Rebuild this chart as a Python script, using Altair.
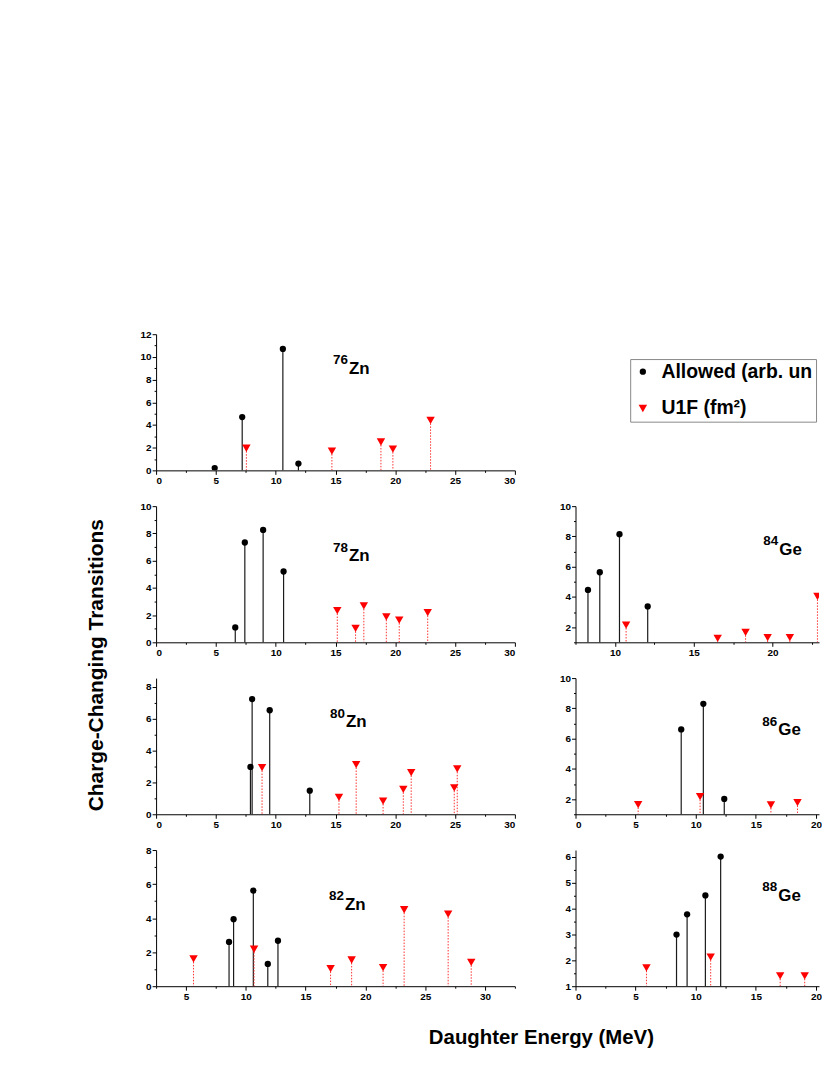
import altair as alt
import pandas as pd

FONT = "Liberation Sans"
SERIES = ["Allowed (arb. units)", "U1F (fm²)"]

# ---- data ----
zn76_allowed_e = [4.9, 7.2, 10.6, 11.9]
zn76_allowed_v = [0.2, 4.7, 10.7, 0.6]
zn76_u1f_e = [7.55, 14.7, 18.8, 19.8, 22.95]
zn76_u1f_v = [1.95, 1.7, 2.5, 1.87, 4.4]

zn78_allowed_e = [6.62, 7.42, 8.95, 10.66]
zn78_allowed_v = [1.09, 7.33, 8.25, 5.2]
zn78_u1f_e = [15.15, 16.68, 17.37, 19.25, 20.33, 22.71]
zn78_u1f_v = [2.33, 1.02, 2.67, 1.87, 1.63, 2.18]

zn80_allowed_e = [7.89, 8.03, 9.5, 12.85]
zn80_allowed_v = [2.97, 7.23, 6.53, 1.48]
zn80_u1f_e = [8.86, 15.29, 16.73, 18.98, 20.67, 21.33, 24.93, 25.18]
zn80_u1f_v = [2.93, 1.06, 3.12, 0.83, 1.56, 2.62, 1.66, 2.85]

zn82_allowed_e = [8.6, 8.98, 10.63, 11.84, 12.69]
zn82_allowed_v = [2.6, 3.94, 5.62, 1.31, 2.67]
zn82_u1f_e = [5.63, 10.69, 17.09, 18.85, 21.48, 23.24, 26.92, 28.85]
zn82_u1f_v = [1.6, 2.17, 1.03, 1.54, 1.09, 4.49, 4.23, 1.4]

ge84_allowed_e = [8.29, 9.04, 10.29, 12.08]
ge84_allowed_v = [4.46, 5.63, 8.15, 3.37]
ge84_u1f_e = [10.71, 16.52, 18.29, 19.69, 21.1, 22.85]
ge84_u1f_v = [2.14, 1.26, 1.66, 1.31, 1.31, 4.03]

ge86_allowed_e = [8.79, 10.63, 12.37]
ge86_allowed_v = [6.61, 8.3, 2.01]
ge86_u1f_e = [5.21, 10.36, 16.25, 18.46]
ge86_u1f_v = [1.64, 2.16, 1.61, 1.77]

ge88_allowed_e = [8.4, 9.28, 10.8, 12.07]
ge88_allowed_v = [2.99, 3.77, 4.5, 6.0]
ge88_u1f_e = [5.9, 11.24, 17.02, 19.06]
ge88_u1f_v = [1.71, 2.12, 1.4, 1.4]

WL, WR, H = 361, 245, 137

LEGEND = alt.Legend(
    title=None, orient="none", legendX=477, legendY=25,
    labelExpr="datum.label == 'Allowed (arb. units)' ? 'Allowed (arb. un' : datum.label",
)


def panel(mass, sym, ae, av, ue, uv, xdom, ydom, xmaj, xmin, ymaj, ymin, lab, width):
    rows = [{"e": e, "v": v, "s": SERIES[0]} for e, v in zip(ae, av)]
    rows += [{"e": e, "v": v, "s": SERIES[1]} for e, v in zip(ue, uv)]
    df = pd.DataFrame(rows)
    base = alt.Chart(df)
    xs = alt.Scale(domain=xdom, nice=False, zero=False)
    ys = alt.Scale(domain=ydom, nice=False, zero=False)
    X = alt.X("e:Q", scale=xs, axis=alt.Axis(values=xmaj, title=None, format="d"))
    Y = alt.Y("v:Q", scale=ys, axis=alt.Axis(values=ymaj, title=None, format="d"))
    Xn = alt.X("e:Q", scale=xs, axis=None)
    Yn = alt.Y("v:Q", scale=ys, axis=None)
    stem_a = base.transform_filter(alt.datum.s == SERIES[0]).mark_rule(
        color="#1a1a1a", strokeWidth=1.2
    ).encode(x=X, y=Y, y2=alt.datum(ydom[0]))
    stem_u = base.transform_filter(alt.datum.s == SERIES[1]).mark_rule(
        color="#ff3030", strokeWidth=1, strokeDash=[1.5, 1.5], clip=True
    ).encode(x=Xn, y=Yn, y2=alt.datum(ydom[0]))
    pts = base.mark_point(filled=True, opacity=1, strokeWidth=0, clip=True).encode(
        x=Xn,
        y=Yn,
        color=alt.Color("s:N", scale=alt.Scale(domain=SERIES, range=["black", "red"]), legend=LEGEND),
        shape=alt.Shape("s:N", scale=alt.Scale(domain=SERIES, range=["circle", "triangle-down"]), legend=LEGEND),
        size=alt.Size("s:N", scale=alt.Scale(domain=SERIES, range=[40, 72]), legend=None),
    )
    minor = base.mark_point(opacity=0).encode(
        x=alt.X("e:Q", scale=xs, axis=alt.Axis(values=xmin, labels=False, domain=False, tickSize=2, title=None, orient="bottom")),
        y=alt.Y("v:Q", scale=ys, axis=alt.Axis(values=ymin, labels=False, domain=False, tickSize=2, title=None, orient="left")),
    )
    one = alt.Data(values=[{}])
    t_mass = alt.Chart(one).mark_text(
        text=mass, font=FONT, fontSize=13.5, fontWeight="bold", align="right", baseline="alphabetic", color="black"
    ).encode(x=alt.value(lab[0] - 1), y=alt.value(lab[2]))
    t_sym = alt.Chart(one).mark_text(
        text=sym, font=FONT, fontSize=17, fontWeight="bold", align="left", baseline="alphabetic", color="black"
    ).encode(x=alt.value(lab[0]), y=alt.value(lab[1]))
    return alt.layer(stem_a, stem_u, pts, minor, t_mass, t_sym).resolve_axis(
        x="independent", y="independent"
    ).properties(width=width, height=H)


x30 = [0, 5, 10, 15, 20, 25, 30]
x30m = [2.5, 7.5, 12.5, 17.5, 22.5, 27.5]
x20 = [0, 5, 10, 15, 20]
x20m = [2.5, 7.5, 12.5, 17.5]

p76 = panel("76", "Zn", zn76_allowed_e, zn76_allowed_v, zn76_u1f_e, zn76_u1f_v,
            [0, 30], [0, 12], x30, x30m, [0, 2, 4, 6, 8, 10, 12], [1, 3, 5, 7, 9, 11], (194, 40, 30), WL)
p78 = panel("78", "Zn", zn78_allowed_e, zn78_allowed_v, zn78_u1f_e, zn78_u1f_v,
            [0, 30], [0, 10], x30, x30m, [0, 2, 4, 6, 8, 10], [1, 3, 5, 7, 9], (194, 55, 46), WL)
p80 = panel("80", "Zn", zn80_allowed_e, zn80_allowed_v, zn80_u1f_e, zn80_u1f_v,
            [0, 30], [0, 8.55], x30, x30m, [0, 2, 4, 6, 8], [1, 3, 5, 7], (191, 49, 40), WL)
p82 = panel("82", "Zn", zn82_allowed_e, zn82_allowed_v, zn82_u1f_e, zn82_u1f_v,
            [2.5, 32.5], [0, 8], [5, 10, 15, 20, 25, 30], [2.5, 7.5, 12.5, 17.5, 22.5, 27.5, 32.5],
            [0, 2, 4, 6, 8], [1, 3, 5, 7], (190, 60, 50), WL)
p84 = panel("84", "Ge", ge84_allowed_e, ge84_allowed_v, ge84_u1f_e, ge84_u1f_v,
            [7.5, 22.95], [1, 10], [10, 15, 20], [7.5, 12.5, 17.5, 22.5],
            [2, 4, 6, 8, 10], [1, 3, 5, 7, 9], (205, 49, 39), WR)
p86 = panel("86", "Ge", ge86_allowed_e, ge86_allowed_v, ge86_u1f_e, ge86_u1f_v,
            [0, 20.25], [1, 10], x20, x20m, [2, 4, 6, 8, 10], [1, 3, 5, 7, 9], (204, 57, 48), WR)
p88 = panel("88", "Ge", ge88_allowed_e, ge88_allowed_v, ge88_u1f_e, ge88_u1f_v,
            [0, 20.25], [1, 6.25], x20, x20m, [1, 2, 3, 4, 5, 6], [1.5, 2.5, 3.5, 4.5, 5.5], (204, 51, 41), WR)

empty = alt.Chart(alt.Data(values=[{}])).mark_point(opacity=0).properties(width=WR, height=H)

grid = alt.concat(
    p76, empty, p78, p84, p80, p86, p82, p88,
    columns=2,
    spacing={"row": 16, "column": 43},
).properties(
    title=alt.TitleParams(
        "Charge-Changing Transitions", orient="left", anchor="middle",
        font=FONT, fontSize=21, fontWeight="bold", color="black", offset=33,
    )
)

chart = alt.vconcat(grid).properties(
    title=alt.TitleParams(
        "Daughter Energy (MeV)", orient="bottom", anchor="middle",
        font=FONT, fontSize=20.5, fontWeight="bold", color="black", offset=27, dx=88,
    ),
    padding={"top": 320, "left": 78, "right": 0, "bottom": 0},
).configure_view(stroke=None).configure_axis(
    labelFont=FONT, labelFontWeight="bold", labelFontSize=10, labelColor="black",
    domainColor="black", tickColor="black", tickSize=4, labelPadding=1, grid=False,
).configure_legend(
    labelFont=FONT, labelFontSize=19.5, labelFontWeight="bold", labelColor="black",
    symbolSize=180, symbolStrokeWidth=0, strokeColor="#888888", fillColor="white", padding=3,
    rowPadding=16, labelOffset=9, labelLimit=400,
)

chart.save("out.html", embed_options={"renderer": "svg", "actions": False})
